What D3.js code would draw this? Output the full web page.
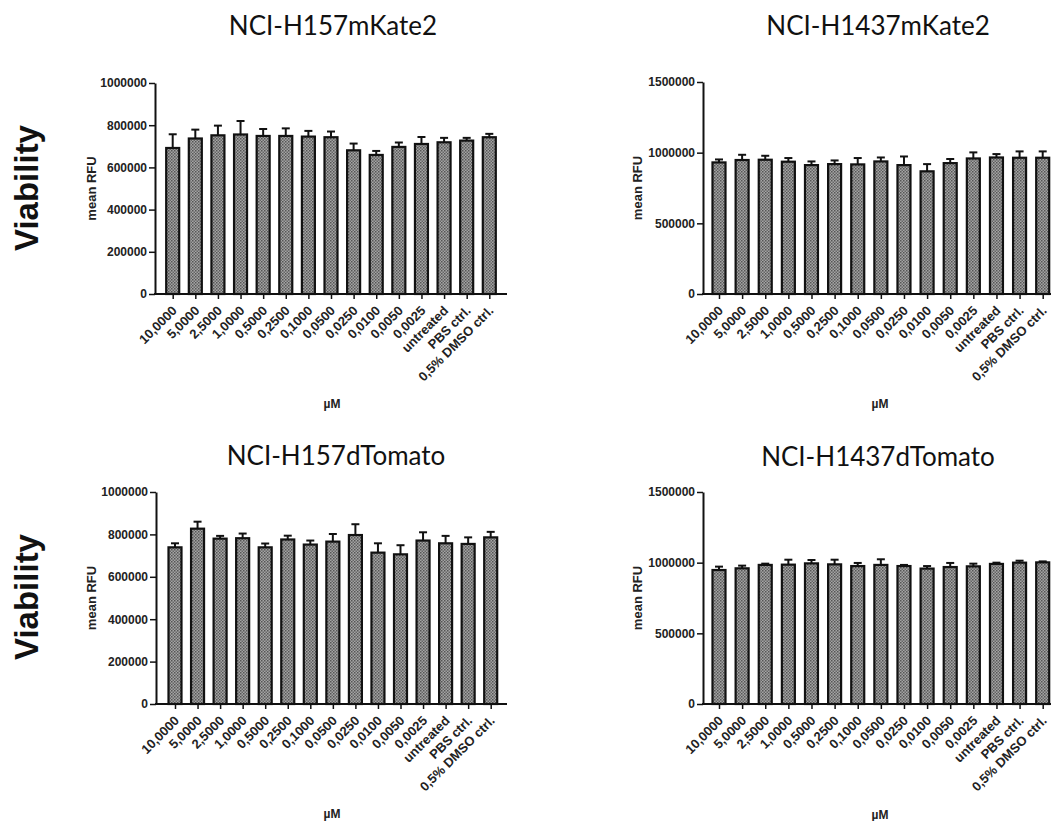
<!DOCTYPE html>
<html lang="en">
<head>
<meta charset="UTF-8">
<title>Viability</title>
<script src="https://cdn.jsdelivr.net/npm/d3@7"></script>
<style>
    body { margin: 0; background: #fff; }
    text { font-family: "Liberation Sans", Arial, sans-serif; }
    .title { font-family: Lato, "Open Sans", sans-serif; font-size: 26px; fill: #111; }
    .tick text { font-weight: bold; font-size: 12px; fill: #222; }
    .xlab .tick text { font-size: 13px; }
</style>
</head>
<body>
<div id="chart"></div>
<script>

var width = 1051,
    height = 821;

// x categories (µM)
var doses = ["10,0000", "5,0000", "2,5000", "1,0000", "0,5000", "0,2500", "0,1000", "0,0500",
    "0,0250", "0,0100", "0,0050", "0,0025", "untreated", "PBS ctrl.", "0,5% DMSO ctrl."];

// mean RFU and upper error (SEM) for each panel
var h157Kate = [692000, 737000, 752000, 756000, 749000, 749000, 746000, 743000, 681000, 659000, 697000, 711000, 719000, 727000, 743000];
var h157KateErr = [65000, 42000, 46000, 64000, 33000, 36000, 27000, 27000, 32000, 19000, 21000, 33000, 21000, 13000, 16000];

var h1437Kate = [931000, 948000, 950000, 936000, 912000, 919000, 917000, 938000, 912000, 868000, 926000, 959000, 966000, 964000, 964000];
var h1437KateErr = [21000, 37000, 28000, 26000, 26000, 26000, 45000, 28000, 61000, 51000, 29000, 43000, 24000, 45000, 45000];

var h157Tom = [739000, 827000, 780000, 782000, 739000, 776000, 752000, 766000, 797000, 714000, 706000, 771000, 758000, 755000, 786000];
var h157TomErr = [19000, 33000, 13000, 22000, 18000, 18000, 19000, 36000, 51000, 44000, 43000, 39000, 35000, 31000, 26000];

var h1437Tom = [948000, 960000, 984000, 986000, 995000, 988000, 976000, 984000, 976000, 958000, 969000, 974000, 991000, 1000000, 1002000];
var h1437TomErr = [24000, 19000, 9000, 35000, 24000, 33000, 22000, 40000, 8000, 18000, 29000, 19000, 9000, 14000, 7000];

var ticks1M = [0, 200000, 400000, 600000, 800000, 1000000];
var ticks15M = [0, 500000, 1000000, 1500000];

// panel layout
var panels = [
    {title: "NCI-H157mKate2", mean: h157Kate, err: h157KateErr, max: 1000000, ticks: ticks1M,
        ax: 155, y0: 294, y1: 83, first: 172.7, last: 489.3, axEnd: 507, titleX: 333, titleY: 35, unitX: 332, unitY: 408, labX: 96},
    {title: "NCI-H1437mKate2", mean: h1437Kate, err: h1437KateErr, max: 1500000, ticks: ticks15M,
        ax: 703, y0: 294, y1: 82, first: 719, last: 1042.7, axEnd: 1060, titleX: 878, titleY: 35, unitX: 880, unitY: 408, labX: 642},
    {title: "NCI-H157dTomato", mean: h157Tom, err: h157TomErr, max: 1000000, ticks: ticks1M,
        ax: 156, y0: 704, y1: 492, first: 175, last: 490.7, axEnd: 507, titleX: 336, titleY: 465, unitX: 332, unitY: 818, labX: 96},
    {title: "NCI-H1437dTomato", mean: h1437Tom, err: h1437TomErr, max: 1500000, ticks: ticks15M,
        ax: 703, y0: 704, y1: 492, first: 719, last: 1042.7, axEnd: 1060, titleX: 878, titleY: 466, unitX: 880, unitY: 819, labX: 642}
];

var svg = d3.select("#chart")
    .append("svg")
    .attr("width", width)
    .attr("height", height);

// stippled grey fill of the bars
var pat = svg.append("defs").append("pattern")
    .attr("id", "stipple")
    .attr("width", 3)
    .attr("height", 3)
    .attr("patternUnits", "userSpaceOnUse");
pat.append("rect").attr("width", 3).attr("height", 3).attr("fill", "#a4a4a4");
pat.append("rect").attr("width", 1.5).attr("height", 1.5).attr("fill", "#555");
pat.append("rect").attr("x", 1.5).attr("y", 1.5).attr("width", 1.5).attr("height", 1.5).attr("fill", "#666");

// row labels
[188, 597].forEach(function (cy) {
    svg.append("text")
        .attr("transform", "translate(38," + cy + ") rotate(-90)")
        .attr("text-anchor", "middle")
        .style("font-weight", "bold")
        .style("font-size", "33px")
        .style("fill", "#111")
        .text("Viability");
});

panels.forEach(function (p) {
    var g = svg.append("g");
    var data = doses.map(function (d, i) { return {dose: d, mean: p.mean[i], err: p.err[i]}; });

    var y = d3.scaleLinear().domain([0, p.max]).range([p.y0, p.y1]);
    var x = d3.scalePoint().domain(doses).range([p.first, p.last]);
    var bw = 13;

    g.append("text")
        .attr("class", "title")
        .attr("x", p.titleX)
        .attr("y", p.titleY)
        .attr("text-anchor", "middle")
        .text(p.title);

    // bars
    g.selectAll(".bar")
        .data(data)
        .enter()
        .append("rect")
        .attr("class", "bar")
        .attr("x", function (d) { return x(d.dose) - bw / 2; })
        .attr("y", function (d) { return y(d.mean); })
        .attr("width", bw)
        .attr("height", function (d) { return y(0) - y(d.mean); })
        .attr("fill", "url(#stipple)")
        .attr("stroke", "#111")
        .attr("stroke-width", 2.2);

    // upper error bars
    var eb = g.selectAll(".err")
        .data(data)
        .enter()
        .append("g")
        .attr("class", "err")
        .attr("stroke", "#111")
        .attr("stroke-width", 2);
    eb.append("line")
        .attr("x1", function (d) { return x(d.dose); })
        .attr("x2", function (d) { return x(d.dose); })
        .attr("y1", function (d) { return y(d.mean); })
        .attr("y2", function (d) { return y(d.mean + d.err); });
    eb.append("line")
        .attr("x1", function (d) { return x(d.dose) - 4; })
        .attr("x2", function (d) { return x(d.dose) + 4; })
        .attr("y1", function (d) { return y(d.mean + d.err); })
        .attr("y2", function (d) { return y(d.mean + d.err); });

    // y axis
    var yAxis = g.append("g")
        .attr("transform", "translate(" + p.ax + ",0)")
        .call(d3.axisLeft(y).tickValues(p.ticks).tickSize(6).tickSizeOuter(0).tickPadding(2).tickFormat(d3.format("d")));
    yAxis.select(".domain").attr("stroke", "#111").attr("stroke-width", 2);
    yAxis.selectAll(".tick line").attr("stroke", "#111").attr("stroke-width", 1.5);

    // x axis
    var xAxis = g.append("g")
        .attr("class", "xlab")
        .attr("transform", "translate(0," + p.y0 + ")")
        .call(d3.axisBottom(x).tickSize(5).tickSizeOuter(0));
    xAxis.select(".domain").remove();
    xAxis.selectAll(".tick line").attr("stroke", "#111").attr("stroke-width", 1.5);
    xAxis.selectAll(".tick text")
        .attr("text-anchor", "end")
        .attr("transform", "translate(-2,11) rotate(-45)")
        .attr("x", 0)
        .attr("y", 0)
        .attr("dy", "0.7em");
    g.append("line")
        .attr("x1", p.ax - 1)
        .attr("x2", p.axEnd)
        .attr("y1", p.y0)
        .attr("y2", p.y0)
        .attr("stroke", "#111")
        .attr("stroke-width", 2);

    // axis titles
    g.append("text")
        .attr("transform", "translate(" + p.labX + "," + ((p.y0 + p.y1) / 2) + ") rotate(-90)")
        .attr("text-anchor", "middle")
        .style("font-weight", "bold")
        .style("font-size", "13px")
        .style("fill", "#222")
        .text("mean RFU");

    g.append("text")
        .attr("x", p.unitX)
        .attr("y", p.unitY)
        .attr("text-anchor", "middle")
        .style("font-weight", "bold")
        .style("font-size", "12px")
        .style("fill", "#222")
        .text("µM");
});

</script>
</body>
</html>
